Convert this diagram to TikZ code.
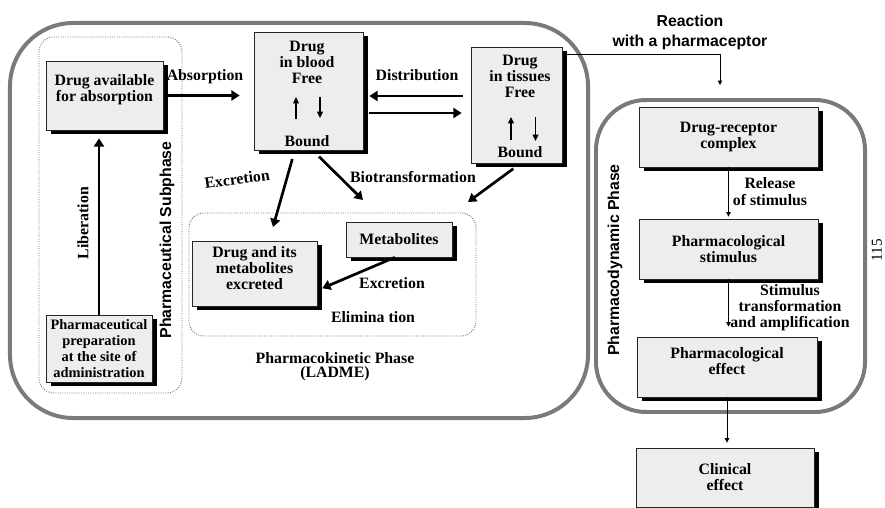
\documentclass[tikz,border=0pt]{standalone}
\usepackage{fontspec}
\setmainfont{Liberation Serif}
\setsansfont{Liberation Sans}
\usetikzlibrary{arrows.meta,shadows,calc}

\definecolor{phaseframe}{gray}{0.48}
\definecolor{boxfill}{gray}{0.93}
\definecolor{dotline}{gray}{0.45}

% extra depth under the last line, lifts a box text slightly
\newcommand\textlift[1]{\rule[-#1]{0pt}{0pt}}

\begin{document}
\begin{tikzpicture}[x=0.03cm,y=-0.03cm,
  lbl/.style={font=\fontsize{13.5}{13.6}\selectfont\bfseries, align=center, inner sep=0pt},
  sanslbl/.style={font=\sffamily\bfseries\fontsize{13.5}{16}\selectfont, align=center, inner sep=0pt},
  stagebox/.style={lbl, draw=black!85, line width=0.6pt, fill=boxfill,
    drop shadow={shadow xshift=0.15cm, shadow yshift=-0.13cm, opacity=1, fill=black}},
  phase/.style={draw=phaseframe, line width=3.4pt, inner sep=0pt},
  subphase/.style={draw=dotline, line width=0.8pt, dash pattern=on 0.8pt off 1.2pt,
    rounded corners=0.45cm, inner sep=0pt},
  bigarrow/.style={line width=2.3pt, -{Triangle[length=7pt,width=8.5pt]}},
  smallarrow/.style={line width=1pt, -{Triangle[length=5.5pt,width=5pt]}},
  thinarrow/.style={line width=0.6pt, -{Triangle[length=3.8pt,width=3.8pt]}},
]
\useasboundingbox (0,0) rectangle (885,508);

% phase frames and dotted sub-areas
\node[phase, rounded corners=1.9cm, minimum width=17.34cm, minimum height=11.85cm] (kinetic) at (299,220.5) {};
\node[phase, rounded corners=1.5cm, minimum width=8.07cm, minimum height=9.36cm] (dynamic) at (730.5,256) {};
\node[subphase, minimum width=4.29cm, minimum height=10.68cm] (subarea) at (110.5,215) {};
\node[subphase, minimum width=8.61cm, minimum height=3.69cm] (elimarea) at (332.5,274.5) {};

% stage boxes
\node[stagebox, minimum width=3.51cm, minimum height=2.07cm] (avail) at (104.5,95.5) {Drug available\\for absorption\textlift{0.44cm}};
\node[stagebox, minimum width=3.27cm, minimum height=3.54cm] (blood) at (308.5,91) {};
\node[lbl] (bloodfree) at (307,62.5) {Drug\\in blood\\Free};
\node[lbl] (bloodbound) at (307,141) {Bound};
\node[stagebox, minimum width=2.73cm, minimum height=3.48cm] (tissue) at (516.5,105) {};
\node[lbl] (tissuefree) at (520,76.5) {Drug\\in tissues\\Free};
\node[lbl] (tissuebound) at (520,152) {Bound};
\node[stagebox, font=\fontsize{12.3}{13.6}\selectfont\bfseries, minimum width=3.18cm, minimum height=2.01cm] (prep) at (99,348.5)
  {Pharmaceutical\\preparation\\at the site of\\administration};
\node[stagebox, minimum width=3.75cm, minimum height=1.95cm] (excreted) at (254.5,273.5) {Drug and its\\metabolites\\excreted\textlift{0.33cm}};
\node[stagebox, minimum width=3.18cm, minimum height=1.05cm] (metab) at (399,239.5) {Metabolites};
\node[stagebox, minimum width=5.37cm, minimum height=1.8cm] (complex) at (728.5,137) {Drug-receptor\\complex\textlift{0.1cm}};
\node[stagebox, minimum width=5.37cm, minimum height=1.8cm] (stimulus) at (728.5,249) {Pharmacological\\stimulus};
\node[stagebox, minimum width=5.4cm, minimum height=1.8cm] (effect) at (727,367) {Pharmacological\\effect\textlift{0.36cm}};
\node[stagebox, minimum width=5.34cm, minimum height=1.77cm] (clinical) at (725,477.5) {Clinical\\effect};

% labels
\node[lbl] (absorb) at (205,77) {Absorption};
\node[lbl] (distrib) at (417,75) {Distribution};
\node[lbl, rotate=8] (excrup) at (237,179) {Excretion};
\node[lbl] (biotr) at (413,177) {Biotransformation};
\node[lbl] (excrdown) at (392,283) {Excretion};
\node[lbl] (elim) at (373,317) {Elimina tion};
\node[lbl, font=\fontsize{13.5}{12.2}\selectfont\bfseries] (pkphase) at (335,367) {Pharmacokinetic Phase\\(LADME)};
\node[lbl, rotate=90] (liber) at (83,223) {Liberation};
\node[sanslbl, rotate=90] (subph) at (167,240) {Pharmaceutical Subphase};
\node[sanslbl, rotate=90] (pdphase) at (615,260) {Pharmacodynamic Phase};
\node[sanslbl, font=\sffamily\bfseries\fontsize{13.5}{17}\selectfont] (react) at (690,32) {Reaction\\with a pharmaceptor};
\node[lbl, font=\fontsize{13.5}{14.5}\selectfont\bfseries] (release) at (770,191.5) {Release\\of stimulus};
\node[lbl] (transf) at (790,308) {Stimulus\\transformation\\and amplification};
\node[font=\fontsize{13}{13}\selectfont, rotate=90, inner sep=0pt] (pageno) at (877,250) {115};

% free ends of arrows
\coordinate (exctip) at (273,227);
\coordinate (biotip) at (363,200);
\coordinate (biotiptis) at (468,202);
\coordinate (rtip) at (720,85);

% pharmacokinetic arrows
\draw[bigarrow, shorten <=0.12cm, shorten >=0.42cm] (avail.east) -- (avail.east -| blood.west);
\draw[bigarrow, shorten <=0.24cm, shorten >=0.18cm] (tissue.west |- 0,96) -- (blood.east |- 0,96);
\draw[bigarrow, shorten <=0.18cm, shorten >=0.27cm] (blood.east |- 0,113) -- (tissue.west |- 0,113);
\draw[bigarrow, shorten <=0.27cm] (blood.257) -- (exctip);
\draw[bigarrow, shorten <=0.27cm] (blood.274) -- (biotip);
\draw[bigarrow, shorten <=0.27cm] (tissue.274) -- (biotiptis);
\draw[bigarrow, shorten >=0.16cm] (metab.257) -- (excreted.345);
\draw[bigarrow, shorten >=0.24cm] (prep.north) -- (prep.north |- avail.south);

% free / bound exchange
\draw[smallarrow] ([shift={(-12.5,28)}]blood.center) -- ([shift={(-12.5,6)}]blood.center);
\draw[smallarrow] ([shift={(11.5,6)}]blood.center) -- ([shift={(11.5,27)}]blood.center);
\draw[smallarrow] ([shift={(-5.5,35)}]tissue.center) -- ([shift={(-5.5,12)}]tissue.center);
\draw[smallarrow] ([shift={(19,12)}]tissue.center) -- ([shift={(19,36)}]tissue.center);

% pharmacodynamic arrows
\draw[thinarrow, shorten <=0.15cm] (tissue.east |- 0,54) -- (rtip |- 0,54) -- (rtip);
\draw[thinarrow, shorten >=0.06cm] (complex.south) -- (stimulus.north);
\draw[thinarrow, shorten >=0.3cm] (stimulus.south) -- (stimulus.south |- effect.north);
\draw[thinarrow, shorten >=0.15cm] (effect.south) -- (effect.south |- clinical.north);
\end{tikzpicture}
\end{document}
